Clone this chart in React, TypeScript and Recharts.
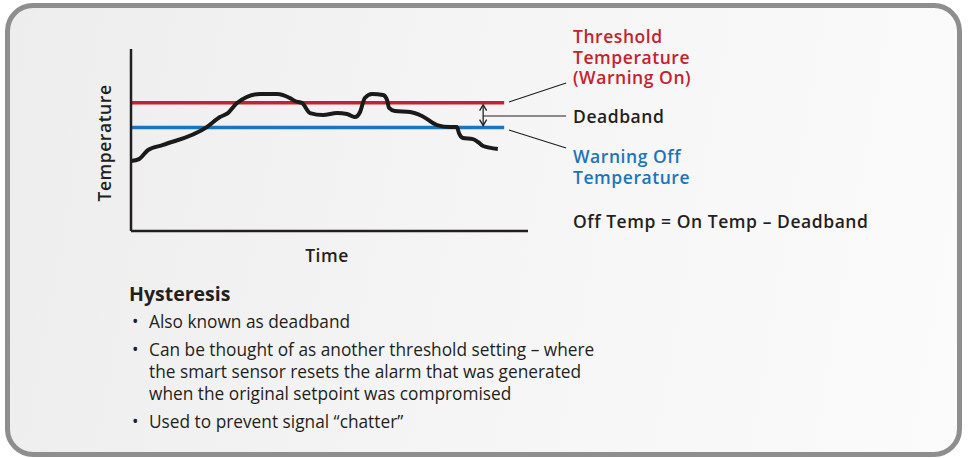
import React from "react";
import { LineChart, Line, XAxis, YAxis, ReferenceLine, Label } from "recharts";

// time axis (0-100) and temperature readings (0-100)
const timePoints = [0, 2, 4.3, 8.1, 19.1, 22.4, 24.4, 26.7, 32.5, 36.8, 40, 41.3, 43.1, 45.1, 48.4, 51.9, 54.4, 56.4, 57.7, 58.9, 60.7, 63.5, 64.5, 65, 66.5, 70.3, 73.3, 77.1, 80.4, 82.1, 82.6, 83.6, 86.1, 87.4, 88.7, 92.4];
const tempPoints = [38.5, 39.5, 44.5, 47.3, 57.1, 62.6, 64.8, 70.3, 75.3, 75.3, 73.1, 71.4, 70.3, 64.8, 63.7, 64.8, 64.3, 62.6, 65.4, 73.1, 75.3, 74.7, 72, 67.6, 65.9, 65.4, 63.2, 58.2, 57.1, 57.1, 53.8, 51.1, 50.5, 48.9, 46.7, 45.1];

const warningOn = 70.5;
const warningOff = 56.8;
const lineEnd = 94;
const deadbandX = 88.7;

const onLabel = ["Threshold", "Temperature", "(Warning On)"];
const offLabel = ["Warning Off", "Temperature"];
const textItems = [
  "Also known as deadband",
  "Can be thought of as another threshold setting \u2013 where the smart sensor resets the alarm that was generated when the original setpoint was compromised",
  "Used to prevent signal \u201cchatter\u201d",
];

const data = timePoints.map((t, i) => ({ time: t, temp: tempPoints[i] }));

const RED = "#c5222f";
const BLUE = "#1b75bc";
const INK = "#231f20";
const FONT = "'Open Sans', 'Noto Sans', sans-serif";

const noteStyle: React.CSSProperties = {
  position: "absolute",
  left: 573,
  fontSize: 17.5,
  fontWeight: 600,
  letterSpacing: 0.55,
  lineHeight: "20px",
  whiteSpace: "nowrap",
};

function DoubleArrow(props: any) {
  const { x1, y1, x2, y2 } = props;
  const top = Math.min(y1, y2) + 2;
  const bot = Math.max(y1, y2) - 2;
  return (
    <g>
      <line x1={x1} y1={top + 1} x2={x2} y2={bot - 1} stroke={INK} strokeWidth={1.3} />
      <path d={`M${x1 - 3.5},${top + 6} L${x1},${top} L${x1 + 3.5},${top + 6}`} fill="none" stroke={INK} strokeWidth={1.3} />
      <path d={`M${x1 - 3.5},${bot - 6} L${x1},${bot} L${x1 + 3.5},${bot - 6}`} fill="none" stroke={INK} strokeWidth={1.3} />
    </g>
  );
}

export default function App() {
  return (
    <div style={{ position: "absolute", left: 0, top: 0, width: 968, height: 458, fontFamily: FONT, color: INK }}>
      <div
        style={{
          position: "absolute",
          left: 5,
          top: 3,
          width: 957,
          height: 454,
          boxSizing: "border-box",
          border: "5px solid #8e8e8e",
          borderRadius: 28,
          background: "linear-gradient(100deg, #eeeded 0%, #f6f5f5 50%, #fcfbfb 100%)",
        }}
      />
      <div style={{ position: "absolute", left: 0, top: 0 }}>
        <LineChart width={968} height={300} data={data} margin={{ top: 49, right: 440, bottom: 68, left: 130 }}>
          <XAxis
            dataKey="time"
            type="number"
            domain={[0, 100]}
            height={1}
            tick={false}
            tickLine={false}
            axisLine={{ stroke: INK, strokeWidth: 2.5 }}
          >
            <Label
              content={({ viewBox }: any) => (
                <text x={viewBox.x + 196} y={viewBox.y + 31} textAnchor="middle" fontFamily={FONT} fontWeight={600} fontSize={17.5} letterSpacing={0.55} fill={INK}>
                  Time
                </text>
              )}
            />
          </XAxis>
          <YAxis
            type="number"
            domain={[0, 100]}
            width={1}
            tick={false}
            tickLine={false}
            axisLine={{ stroke: INK, strokeWidth: 2.5 }}
          >
            <Label
              content={({ viewBox }: any) => {
                const cx = viewBox.x - 19;
                const cy = viewBox.y + 94;
                return (
                  <text x={cx} y={cy} transform={`rotate(-90 ${cx} ${cy})`} textAnchor="middle" fontFamily={FONT} fontWeight={600} fontSize={17.5} letterSpacing={0.55} fill={INK}>
                    Temperature
                  </text>
                );
              }}
            />
          </YAxis>
          <ReferenceLine segment={[{ x: 0, y: warningOn }, { x: lineEnd, y: warningOn }]} stroke={RED} strokeWidth={3.5} ifOverflow="visible" />
          <ReferenceLine segment={[{ x: 0, y: warningOff }, { x: lineEnd, y: warningOff }]} stroke={BLUE} strokeWidth={3.5} ifOverflow="visible" />
          <ReferenceLine
            segment={[{ x: deadbandX, y: warningOn }, { x: deadbandX, y: warningOff }]}
            ifOverflow="visible"
            shape={(p: any) => <DoubleArrow {...p} />}
          />
          <ReferenceLine segment={[{ x: deadbandX, y: 63.2 }, { x: 109.6, y: 63.2 }]} stroke={INK} strokeWidth={1.2} ifOverflow="visible" />
          <ReferenceLine segment={[{ x: 95.2, y: 70.9 }, { x: 109.6, y: 81.3 }]} stroke={INK} strokeWidth={1.2} ifOverflow="visible" />
          <ReferenceLine segment={[{ x: 95.2, y: 55.5 }, { x: 109.6, y: 45.6 }]} stroke={INK} strokeWidth={1.2} ifOverflow="visible" />
          <Line
            type="monotone"
            dataKey="temp"
            stroke="#1a1a1a"
            strokeWidth={4}
            dot={false}
            activeDot={false}
            isAnimationActive={false}
          />
        </LineChart>
      </div>

      {onLabel.map((s, i) => (
        <div key={s} style={{ ...noteStyle, top: 26 + i * 20.5, color: RED }}>
          {s}
        </div>
      ))}
      <div style={{ ...noteStyle, top: 106 }}>Deadband</div>
      {offLabel.map((s, i) => (
        <div key={s} style={{ ...noteStyle, top: 146 + i * 21, color: BLUE }}>
          {s}
        </div>
      ))}
      <div style={{ ...noteStyle, top: 211 }}>Off Temp = On Temp &ndash; Deadband</div>

      <div style={{ position: "absolute", left: 129, top: 282, fontSize: 19.5, fontWeight: 700, lineHeight: "24px" }}>Hysteresis</div>
      <ul style={{ position: "absolute", left: 130, top: 311, margin: 0, padding: 0, listStyle: "none", fontSize: 17.3, lineHeight: "21.7px", width: 480 }}>
        {textItems.map((t, i) => (
          <li key={i} style={{ position: "relative", paddingLeft: 19, marginBottom: 6.5 }}>
            <span style={{ position: "absolute", left: 2, top: 0 }}>&bull;</span>
            {t}
          </li>
        ))}
      </ul>
    </div>
  );
}
